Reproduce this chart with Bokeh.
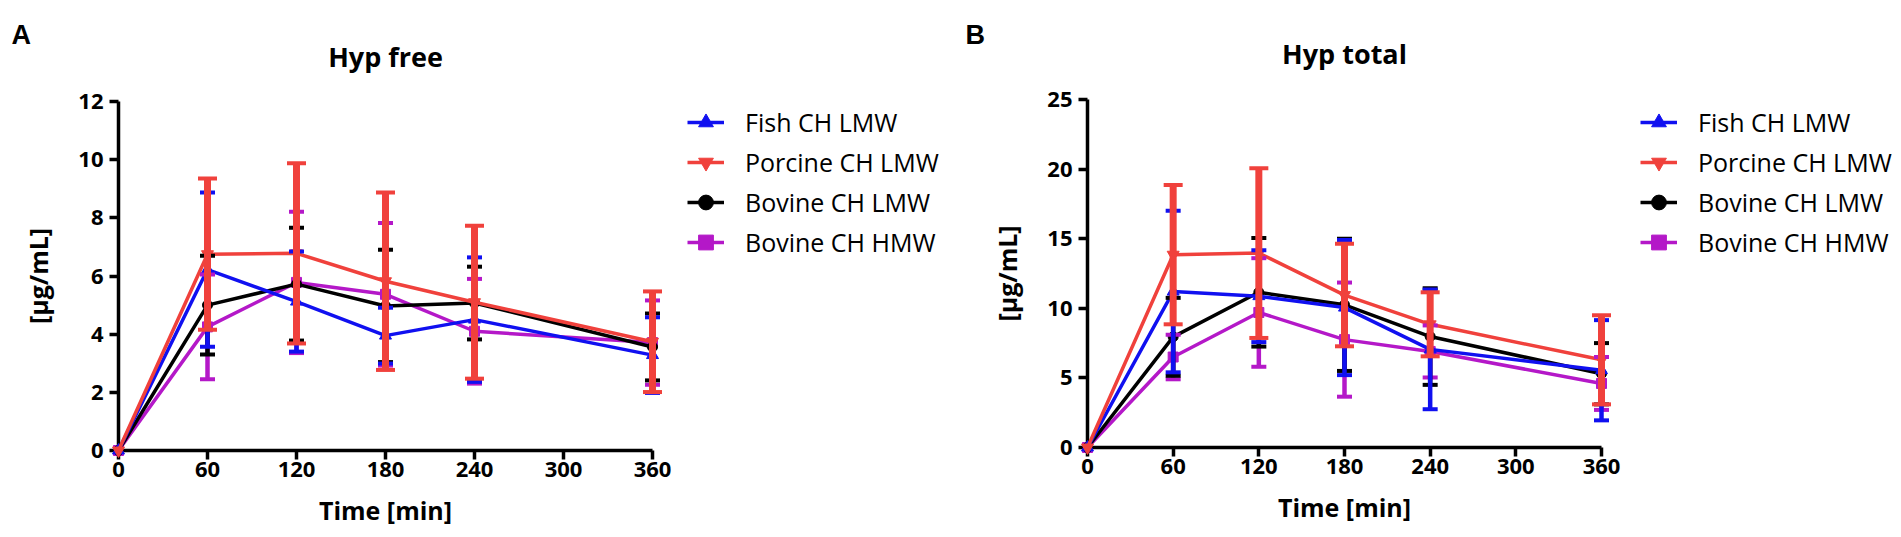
from bokeh.plotting import figure
from bokeh.models import (ColumnDataSource, Whisker, TeeHead, Legend, LegendItem,
                          FixedTicker, Range1d, LinearAxis, Label)
from bokeh.layouts import row
from bokeh.embed import file_html
from bokeh.resources import INLINE

# ---------------- data ----------------
time_min = [0, 60, 120, 180, 240, 360]
x_ticks = [0, 60, 120, 180, 240, 300, 360]
series_names = ["Fish CH LMW", "Porcine CH LMW", "Bovine CH LMW", "Bovine CH HMW"]

# Panel A: Hyp free  [µg/mL]
free_fish_mean = [0, 6.22, 5.12, 3.95, 4.50, 3.28]
free_fish_sd = [0, 2.65, 1.72, 0.96, 2.14, 1.30]
free_porcine_mean = [0, 6.75, 6.78, 5.82, 5.10, 3.74]
free_porcine_sd = [0, 2.60, 3.10, 3.05, 2.63, 1.73]
free_bovine_lmw_mean = [0, 5.00, 5.72, 4.97, 5.07, 3.56]
free_bovine_lmw_sd = [0, 1.70, 1.94, 1.93, 1.25, 1.15]
free_bovine_hmw_mean = [0, 4.25, 5.78, 5.37, 4.10, 3.71]
free_bovine_hmw_sd = [0, 1.80, 2.43, 2.45, 1.80, 1.45]
free_y_ticks = [0, 2, 4, 6, 8, 10, 12]

# Panel B: Hyp total  [µg/mL]
total_fish_mean = [0, 11.20, 10.87, 10.05, 7.05, 5.55]
total_fish_sd = [0, 5.80, 3.30, 4.85, 4.30, 3.60]
total_porcine_mean = [0, 13.85, 13.97, 10.95, 8.85, 6.30]
total_porcine_sd = [0, 5.00, 6.10, 3.68, 2.30, 3.20]
total_bovine_lmw_mean = [0, 7.95, 11.15, 10.25, 7.97, 5.30]
total_bovine_lmw_sd = [0, 2.80, 3.90, 4.75, 3.47, 2.20]
total_bovine_hmw_mean = [0, 6.50, 9.70, 7.75, 6.90, 4.60]
total_bovine_hmw_sd = [0, 1.60, 3.90, 4.10, 1.87, 1.90]
total_y_ticks = [0, 5, 10, 15, 20, 25]

# ---------------- styles ----------------
COLORS = {"Fish CH LMW": "#1010F0", "Porcine CH LMW": "#F0413C",
          "Bovine CH LMW": "#000000", "Bovine CH HMW": "#B418C8"}
MARKERS = {"Fish CH LMW": ("triangle", 12), "Porcine CH LMW": ("inverted_triangle", 12),
           "Bovine CH LMW": ("circle", 10), "Bovine CH HMW": ("square", 10)}
DRAW_ORDER = ["Bovine CH HMW", "Bovine CH LMW", "Fish CH LMW", "Porcine CH LMW"]
FONT = "Open Sans"
HEIGHT = 537


def make_panel(title, letter, means, sds, y_ticks, width, axes_left, axes_w,
               axes_top, axes_h, legend_left, legend_top, letter_px, title_baseline):
    """The figure's frame covers the whole canvas; the axes sit at data 0 with bounds."""
    x_max, y_max = 360, y_ticks[-1]
    axes_bottom_from_base = HEIGHT - (axes_top + axes_h)
    kx = axes_w / x_max
    ky = axes_h / y_max
    x_range = Range1d(-axes_left / kx, (width - axes_left) / kx)
    y_range = Range1d(-axes_bottom_from_base / ky, (HEIGHT - axes_bottom_from_base) / ky)

    p = figure(width=width, height=HEIGHT, output_backend="svg", toolbar_location=None,
               x_range=x_range, y_range=y_range, x_axis_location=None,
               y_axis_location=None, min_border=0, title=None)
    p.outline_line_color = None
    p.grid.visible = False
    p.background_fill_color = "white"
    p.border_fill_color = "white"

    xaxis = LinearAxis(fixed_location=0, bounds=(0, x_max), axis_label="Time [min]",
                       ticker=FixedTicker(ticks=x_ticks))
    yaxis = LinearAxis(fixed_location=0, bounds=(0, y_max), axis_label="[µg/mL]",
                       ticker=FixedTicker(ticks=y_ticks))
    for ax in (xaxis, yaxis):
        ax.axis_line_width = 3.5
        ax.axis_line_color = "black"
        ax.major_tick_line_width = 3.5
        ax.major_tick_line_color = "black"
        ax.major_tick_out = 9
        ax.major_tick_in = 0
        ax.minor_tick_line_color = None
        ax.major_label_text_font = FONT
        ax.major_label_text_font_size = "22px"
        ax.major_label_text_font_style = "bold"
        ax.major_label_text_color = "black"
        ax.axis_label_text_font = FONT
        ax.axis_label_text_font_size = "25px"
        ax.axis_label_text_font_style = "bold"
        ax.axis_label_text_color = "black"
    xaxis.major_label_standoff = 2
    xaxis.axis_label_standoff = 13
    yaxis.major_label_standoff = 6
    yaxis.axis_label_standoff = 20
    p.add_layout(xaxis, "below")
    p.add_layout(yaxis, "left")

    items = {}
    for name in DRAW_ORDER:
        c = COLORS[name]
        m, s = means[name], sds[name]
        src = ColumnDataSource(dict(t=time_min, y=m))
        lr = p.line("t", "y", source=src, line_color=c, line_width=3.5, level="overlay")
        mk, sz = MARKERS[name]
        sr = p.scatter("t", "y", source=src, marker=mk, size=sz, fill_color=c,
                       line_color=c, level="overlay")
        items[name] = LegendItem(label=name, renderers=[lr, sr])
        wsrc = ColumnDataSource(dict(
            t=time_min[1:],
            upper=[a + b for a, b in zip(m[1:], s[1:])],
            lower=[a - b for a, b in zip(m[1:], s[1:])]))
        is_red = name == "Porcine CH LMW"
        lw = 7 if is_red else 4.5
        cap = 19 if is_red else 15
        w = Whisker(source=wsrc, base="t", upper="upper", lower="lower", dimension="height",
                    line_color=c, line_width=lw, level="overlay",
                    upper_head=TeeHead(size=cap, line_color=c, line_width=4),
                    lower_head=TeeHead(size=cap, line_color=c, line_width=4))
        p.add_layout(w)

    n_items = len(series_names)
    item_h = 40
    legend = Legend(items=[items[n] for n in series_names],
                    location=(legend_left, HEIGHT - legend_top - n_items * item_h),
                    border_line_color=None, background_fill_alpha=0, padding=0, margin=0,
                    spacing=0, glyph_width=37, glyph_height=item_h, label_height=item_h,
                    label_standoff=21, label_text_font=FONT, label_text_font_size="25px",
                    label_text_color="black")
    p.add_layout(legend)

    p.add_layout(Label(x=axes_left + axes_w / 2, y=HEIGHT - title_baseline,
                       x_units="screen", y_units="screen", text=title,
                       text_font=FONT, text_font_size="27px", text_font_style="bold",
                       text_color="black", text_align="center",
                       text_baseline="alphabetic"))
    p.add_layout(Label(x=letter_px[0], y=HEIGHT - letter_px[1], x_units="screen",
                       y_units="screen", text=letter, text_font="Liberation Sans",
                       text_font_size="27px", text_font_style="bold", text_color="black",
                       text_align="left", text_baseline="alphabetic"))
    return p


free_means = dict(zip(series_names, [free_fish_mean, free_porcine_mean,
                                     free_bovine_lmw_mean, free_bovine_hmw_mean]))
free_sds = dict(zip(series_names, [free_fish_sd, free_porcine_sd,
                                   free_bovine_lmw_sd, free_bovine_hmw_sd]))
total_means = dict(zip(series_names, [total_fish_mean, total_porcine_mean,
                                      total_bovine_lmw_mean, total_bovine_hmw_mean]))
total_sds = dict(zip(series_names, [total_fish_sd, total_porcine_sd,
                                    total_bovine_lmw_sd, total_bovine_hmw_sd]))

pa = make_panel("Hyp free", "A", free_means, free_sds, free_y_ticks,
                width=963, axes_left=118, axes_w=534, axes_top=101, axes_h=349,
                legend_left=687, legend_top=102, letter_px=(11, 34), title_baseline=56)
pb = make_panel("Hyp total", "B", total_means, total_sds, total_y_ticks,
                width=938, axes_left=124, axes_w=514, axes_top=99, axes_h=348,
                legend_left=677, legend_top=102, letter_px=(2, 34), title_baseline=53)

layout = row(pa, pb)
open("out.html", "w").write(file_html(layout, INLINE))
